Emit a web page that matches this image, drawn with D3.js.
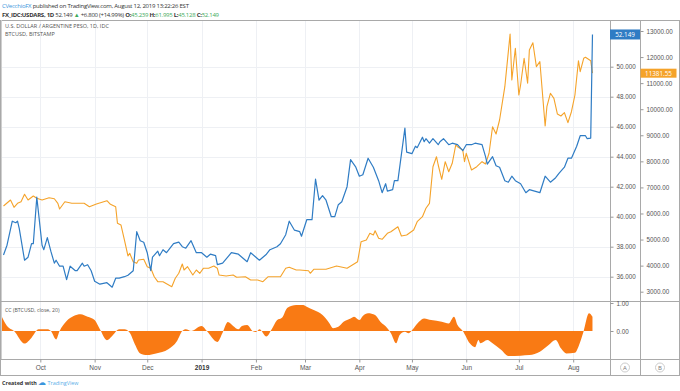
<!DOCTYPE html>
<html>
<head>
<meta charset="utf-8">
<script src="https://d3js.org/d3.v7.min.js"></script>
<style>
  body { margin: 0; background: #fff; }
  svg { display: block; font-family: "Open Sans", sans-serif; }
  .axis text { fill: #555; }
  .axis path { display: none; }
  .axis line { stroke: #999; }
</style>
</head>
<body>
<svg width="680" height="391"></svg>
<script>
// USD/ARS daily close
const usdars = [
  ["2018-09-10",37.45],["2018-09-12",38.1],["2018-09-15",39.7],["2018-09-17",39.6],["2018-09-18",39.7],["2018-09-19",39.2],
  ["2018-09-22",37.1],["2018-09-24",37.3],["2018-09-26",38.2],["2018-09-27",38.2],["2018-09-29",41.3],["2018-10-02",38.1],
  ["2018-10-03",37.8],["2018-10-05",38.6],["2018-10-07",37.7],["2018-10-09",36.9],["2018-10-10",37.1],["2018-10-12",36.7],
  ["2018-10-14",36.7],["2018-10-16",35.8],["2018-10-18",36.7],["2018-10-21",36.4],["2018-10-22",36.4],["2018-10-25",36.9],
  ["2018-10-26",36.7],["2018-10-28",36.8],["2018-10-30",36.4],["2018-11-01",35.7],["2018-11-04",35.5],["2018-11-08",35.6],
  ["2018-11-11",35.3],["2018-11-13",35.9],["2018-11-15",35.9],["2018-11-18",36.0],["2018-11-20",36.1],["2018-11-23",36.4],
  ["2018-11-25",39.0],["2018-11-27",38.4],["2018-11-29",38.3],["2018-12-01",37.6],["2018-12-03",36.4],["2018-12-04",37.3],
  ["2018-12-07",37.7],["2018-12-08",37.4],["2018-12-10",37.8],["2018-12-12",37.6],["2018-12-16",38.2],["2018-12-19",38.3],
  ["2018-12-21",38.0],["2018-12-23",37.9],["2018-12-26",38.4],["2018-12-29",37.6],["2019-01-01",37.6],["2019-01-04",37.3],
  ["2019-01-06",37.5],["2019-01-09",37.4],["2019-01-10",36.8],["2019-01-13",36.9],["2019-01-18",37.6],["2019-01-22",37.5],
  ["2019-01-24",37.3],["2019-01-27",37.0],["2019-01-29",37.6],["2019-02-01",37.3],["2019-02-03",37.1],["2019-02-07",37.5],
  ["2019-02-09",37.8],["2019-02-13",38.0],["2019-02-15",38.2],["2019-02-18",38.8],["2019-02-20",39.7],["2019-02-23",39.1],
  ["2019-02-26",39.0],["2019-02-27",38.7],["2019-03-02",39.8],["2019-03-05",39.8],["2019-03-07",42.5],["2019-03-09",41.1],
  ["2019-03-11",41.4],["2019-03-13",41.1],["2019-03-16",40.0],["2019-03-18",40.0],["2019-03-20",40.8],["2019-03-22",41.0],
  ["2019-03-25",42.0],["2019-03-27",43.8],["2019-03-30",43.3],["2019-04-01",42.7],["2019-04-03",42.8],["2019-04-06",43.9],
  ["2019-04-09",43.3],["2019-04-12",42.4],["2019-04-14",41.6],["2019-04-16",42.2],["2019-04-17",41.7],["2019-04-20",41.8],
  ["2019-04-21",42.4],["2019-04-23",42.4],["2019-04-27",45.9],["2019-04-28",44.3],["2019-05-01",44.2],["2019-05-03",44.7],
  ["2019-05-04",44.6],["2019-05-07",45.3],["2019-05-08",45.0],["2019-05-09",45.2],["2019-05-11",44.9],["2019-05-13",45.2],
  ["2019-05-16",44.8],["2019-05-17",45.0],["2019-05-19",45.2],["2019-05-22",44.8],["2019-05-24",44.9],["2019-05-27",44.8],
  ["2019-05-30",44.4],["2019-06-01",44.8],["2019-06-04",44.8],["2019-06-06",44.9],["2019-06-10",44.8],["2019-06-12",44.0],
  ["2019-06-13",43.5],["2019-06-16",44.0],["2019-06-18",43.4],["2019-06-20",43.3],["2019-06-23",42.4],["2019-06-25",42.3],
  ["2019-06-27",42.7],["2019-06-29",42.4],["2019-07-02",42.2],["2019-07-05",41.6],["2019-07-07",41.8],["2019-07-10",41.7],
  ["2019-07-13",41.6],["2019-07-16",42.7],["2019-07-19",42.3],["2019-07-22",42.6],["2019-07-24",42.9],["2019-07-27",43.3],
  ["2019-07-29",43.9],["2019-07-31",43.9],["2019-08-03",44.7],["2019-08-05",45.4],["2019-08-08",45.4],["2019-08-09",45.2],
  ["2019-08-11",45.24],["2019-08-12",52.149]
];

// BTC/USD Bitstamp daily close
const btcusd = [
  ["2018-09-10",6287],["2018-09-14",6517],["2018-09-16",6237],["2018-09-18",6390],["2018-09-20",6452],["2018-09-22",6736],
  ["2018-09-24",6517],["2018-09-27",6671],["2018-09-29",6583],["2018-10-02",6517],["2018-10-06",6606],["2018-10-09",6567],
  ["2018-10-11",6390],["2018-10-12",6172],["2018-10-15",6452],["2018-10-19",6390],["2018-10-26",6390],["2018-10-29",6260],
  ["2018-11-02",6364],["2018-11-08",6490],["2018-11-10",6352],["2018-11-13",6260],["2018-11-14",5624],["2018-11-16",5559],
  ["2018-11-18",4983],["2018-11-20",4370],["2018-11-21",4473],["2018-11-23",4150],["2018-11-25",4089],["2018-11-26",4216],
  ["2018-11-29",4243],["2018-12-01",3959],["2018-12-03",3897],["2018-12-05",3575],["2018-12-07",3384],["2018-12-10",3384],
  ["2018-12-15",3192],["2018-12-17",3514],["2018-12-19",3706],["2018-12-21",4062],["2018-12-22",3832],["2018-12-24",3959],
  ["2018-12-27",3640],["2018-12-29",3832],["2018-12-31",3706],["2019-01-02",3897],["2019-01-05",3897],["2019-01-08",3986],
  ["2019-01-10",3897],["2019-01-11",3640],["2019-01-15",3602],["2019-01-19",3640],["2019-01-21",3552],["2019-01-26",3575],
  ["2019-01-29",3449],["2019-02-02",3449],["2019-02-05",3384],["2019-02-08",3575],["2019-02-15",3575],["2019-02-18",3897],
  ["2019-02-20",3936],["2019-02-24",3832],["2019-02-26",3832],["2019-03-03",3806],["2019-03-04",3706],["2019-03-06",3859],
  ["2019-03-13",3859],["2019-03-19",3986],["2019-03-25",3897],["2019-03-28",4024],["2019-03-31",4150],["2019-04-02",4918],
  ["2019-04-05",4983],["2019-04-07",5240],["2019-04-09",5175],["2019-04-10",5340],["2019-04-12",5048],["2019-04-14",5010],
  ["2019-04-17",5240],["2019-04-19",5302],["2019-04-23",5493],["2019-04-25",5137],["2019-04-28",5175],["2019-05-02",5367],
  ["2019-05-04",5685],["2019-05-07",5877],["2019-05-09",6199],["2019-05-11",6390],["2019-05-13",7795],["2019-05-15",8178],
  ["2019-05-16",7860],["2019-05-18",7311],["2019-05-20",7987],["2019-05-22",7603],["2019-05-24",7925],["2019-05-26",8627],
  ["2019-05-27",8562],["2019-05-30",8435],["2019-05-31",7987],["2019-06-01",8309],["2019-06-04",7668],["2019-06-07",7795],
  ["2019-06-10",7987],["2019-06-12",7898],["2019-06-14",8309],["2019-06-16",9329],["2019-06-18",9049],["2019-06-20",9586],
  ["2019-06-23",10864],["2019-06-26",12885],["2019-06-27",11120],["2019-06-29",12336],["2019-07-01",10545],["2019-07-02",10929],
  ["2019-07-04",11953],["2019-07-06",10994],["2019-07-07",12271],["2019-07-09",12551],["2019-07-11",11631],["2019-07-13",11823],
  ["2019-07-16",9356],["2019-07-17",10096],["2019-07-19",10610],["2019-07-21",10418],["2019-07-23",9816],["2019-07-25",9739],
  ["2019-07-27",9866],["2019-07-29",9483],["2019-07-31",9904],["2019-08-02",10545],["2019-08-04",11861],["2019-08-05",11439],
  ["2019-08-07",11953],["2019-08-08",11992],["2019-08-11",11861],["2019-08-12",11381.55]
];

// correlation coefficient (BTCUSD, close, 20)
const cc = [
  ["2018-09-09",0.52],["2018-09-12",0.18],["2018-09-16",0.0],["2018-09-22",-0.45],["2018-09-26",-0.24],["2018-09-30",0.06],
  ["2018-10-05",0.06],["2018-10-07",0.0],["2018-10-10",-0.30],["2018-10-12",0.0],["2018-10-16",0.36],["2018-10-20",0.54],
  ["2018-10-24",0.6],["2018-10-28",0.51],["2018-11-01",0.39],["2018-11-04",0.06],["2018-11-08",-0.33],["2018-11-11",-0.18],
  ["2018-11-15",0.06],["2018-11-18",0.06],["2018-11-21",-0.06],["2018-11-24",-0.48],["2018-11-27",-0.8],["2018-12-01",-0.86],
  ["2018-12-06",-0.8],["2018-12-13",-0.65],["2018-12-18",-0.36],["2018-12-21",0.0],["2018-12-23",0.06],["2018-12-26",0.0],
  ["2019-01-01",0.18],["2019-01-04",0.0],["2019-01-10",-0.39],["2019-01-13",-0.06],["2019-01-16",0.32],["2019-01-19",0.18],
  ["2019-01-22",0.06],["2019-01-24",0.18],["2019-01-27",0.21],["2019-01-30",0.0],["2019-02-01",-0.04],["2019-02-03",0.06],
  ["2019-02-07",-0.2],["2019-02-10",0.06],["2019-02-13",0.38],["2019-02-16",0.48],["2019-02-19",0.83],["2019-02-24",0.93],
  ["2019-02-28",0.93],["2019-03-02",0.87],["2019-03-06",0.75],["2019-03-11",0.57],["2019-03-15",0.27],["2019-03-17",0.1],
  ["2019-03-20",0.15],["2019-03-23",0.33],["2019-03-27",0.45],["2019-03-29",0.51],["2019-04-01",0.39],["2019-04-03",0.54],
  ["2019-04-06",0.63],["2019-04-10",0.57],["2019-04-13",0.33],["2019-04-17",0.1],["2019-04-19",-0.08],["2019-04-22",-0.44],
  ["2019-04-24",-0.14],["2019-04-27",-0.03],["2019-04-29",-0.08],["2019-05-02",0.1],["2019-05-05",0.33],["2019-05-08",0.45],
  ["2019-05-12",0.39],["2019-05-18",0.33],["2019-05-22",0.27],["2019-05-25",0.51],["2019-05-27",0.21],["2019-05-30",0.0],
  ["2019-06-03",-0.44],["2019-06-06",-0.58],["2019-06-08",-0.32],["2019-06-09",-0.44],["2019-06-13",-0.32],["2019-06-16",-0.44],
  ["2019-06-21",-0.68],["2019-06-25",-0.89],["2019-07-02",-0.88],["2019-07-07",-0.86],["2019-07-13",-0.74],["2019-07-18",-0.5],
  ["2019-07-22",-0.32],["2019-07-25",-0.62],["2019-07-28",-0.8],["2019-08-02",-0.78],["2019-08-04",-0.56],["2019-08-07",0.0],
  ["2019-08-10",0.63],["2019-08-12",0.51]
];

const arsTicks = [36, 38, 40, 42, 44, 46, 48, 50];
const btcTicks = [3000, 4000, 5000, 6000, 7000, 8000, 9000, 10000, 11000, 12000, 13000];
const ccTicks = [0, 1];
const monthTicks = ["2018-10-01","2018-11-01","2018-12-01","2019-01-01","2019-02-01","2019-03-01",
                    "2019-04-01","2019-05-01","2019-06-01","2019-07-01","2019-08-01"];
const lastArs = 52.149;
const lastBtc = 11381.55;

const parse = d3.timeParse("%Y-%m-%d");
const blue = "#2f7cc4", orange = "#f5a32a", ccOrange = "#f97a14";

var svg = d3.select("svg");
var paneW = 610, axA = 610, axB = 640, W = 680;
var mainTop = 20, mainBot = 301, ccBot = 359, axisBot = 375;

var x = d3.scaleTime()
  .domain([parse("2018-09-08"), parse("2019-08-22")])
  .range([0, paneW]);
var yA = d3.scaleLinear().domain([36, 50]).range([276.7, 66.7]);
var yB = d3.scaleLinear().domain([3000, 13000]).range([291.7, 31]);
var yC = d3.scaleLinear().domain([-1, 1]).range([359, 303]);

// grid
var grid = svg.append("g").attr("stroke", "#eef0f4").attr("stroke-width", 1);
grid.selectAll("line.v").data(monthTicks).enter().append("line")
  .attr("x1", d => Math.round(x(parse(d))) + 0.5).attr("x2", d => Math.round(x(parse(d))) + 0.5)
  .attr("y1", mainTop).attr("y2", ccBot);
grid.selectAll("line.h").data(arsTicks).enter().append("line")
  .attr("x1", 0).attr("x2", paneW)
  .attr("y1", d => Math.round(yA(d)) + 0.5).attr("y2", d => Math.round(yA(d)) + 0.5);

// CC area
var ccArea = d3.area()
  .x(d => x(parse(d[0])))
  .y0(yC(0))
  .y1(d => yC(d[1]))
  .curve(d3.curveMonotoneX);
svg.append("path").datum(cc).attr("d", ccArea).attr("fill", ccOrange);

// price lines
var lineB = d3.line().x(d => x(parse(d[0]))).y(d => yB(d[1]));
var lineA = d3.line().x(d => x(parse(d[0]))).y(d => yA(d[1]));
svg.append("path").datum(btcusd).attr("d", lineB)
  .attr("fill", "none").attr("stroke", orange).attr("stroke-width", 1.1).attr("stroke-linejoin", "round");
svg.append("path").datum(usdars).attr("d", lineA)
  .attr("fill", "none").attr("stroke", blue).attr("stroke-width", 1.2).attr("stroke-linejoin", "round");

// frame lines
var frame = svg.append("g").attr("stroke", "#a9a9a9").attr("stroke-width", 1).attr("fill", "none");
frame.append("rect").attr("x", 0.5).attr("y", mainTop + 0.5).attr("width", W - 1).attr("height", axisBot - mainTop);
frame.append("line").attr("x1", 1.5).attr("x2", 1.5).attr("y1", mainTop).attr("y2", ccBot).attr("stroke", "#cfcfcf");
[axA, axB].forEach(function(v) {
  frame.append("line").attr("x1", v + 0.5).attr("x2", v + 0.5).attr("y1", mainTop).attr("y2", axisBot);
});
[mainBot, ccBot].forEach(function(v) {
  frame.append("line").attr("x1", 0).attr("x2", W).attr("y1", v + 0.5).attr("y2", v + 0.5);
});

// axes
svg.append("g").attr("class", "axis").attr("transform", "translate(" + (axA + 0.5) + ",0)")
  .call(d3.axisRight(yA).tickValues(arsTicks).tickFormat(d3.format(".3f")).tickSize(3).tickPadding(3))
  .selectAll("text").style("font-size", "6.3px");
svg.append("g").attr("class", "axis").attr("transform", "translate(" + (axB + 0.5) + ",0)")
  .call(d3.axisRight(yB).tickValues(btcTicks).tickFormat(d3.format(".2f")).tickSize(3).tickPadding(3))
  .selectAll("text").style("font-size", "6.3px");
svg.append("g").attr("class", "axis").attr("transform", "translate(" + (axA + 0.5) + ",0)")
  .call(d3.axisRight(yC).tickValues(ccTicks).tickFormat(d3.format(".2f")).tickSize(3).tickPadding(3))
  .selectAll("text").style("font-size", "6.3px");

var xAxis = svg.append("g").attr("class", "axis").attr("transform", "translate(0," + (ccBot + 0.5) + ")")
  .call(d3.axisBottom(x).tickValues(monthTicks.map(parse))
    .tickFormat(d => d.getMonth() === 0 ? d3.timeFormat("%Y")(d) : d3.timeFormat("%b")(d))
    .tickSize(3).tickPadding(3));
xAxis.selectAll("text").style("font-size", "6.5px")
  .style("font-weight", d => d.getMonth() === 0 ? "bold" : "normal")
  .style("fill", d => d.getMonth() === 0 ? "#333" : "#555");

// last value labels
var tagA = svg.append("g").attr("transform", "translate(" + axA + "," + yA(lastArs) + ")");
tagA.append("rect").attr("x", 0).attr("y", -5).attr("width", 30).attr("height", 10).attr("fill", blue);
tagA.append("text").text(d3.format(".3f")(lastArs)).attr("x", 15).attr("y", 2.3)
  .attr("text-anchor", "middle").attr("fill", "#fff").style("font-size", "6.3px");
var tagB = svg.append("g").attr("transform", "translate(" + axB + "," + yB(lastBtc) + ")");
tagB.append("rect").attr("x", 0.5).attr("y", -4.5).attr("width", 36).attr("height", 9).attr("fill", orange);
tagB.append("text").text(d3.format(".2f")(lastBtc)).attr("x", 18.5).attr("y", 2.3)
  .attr("text-anchor", "middle").attr("fill", "#fff").style("font-size", "6.3px");

// pane labels
svg.append("text").text("U.S. DOLLAR / ARGENTINE PESO, 1D, IDC").attr("x", 5).attr("y", 28)
  .attr("fill", "#555").style("font-size", "5.5px");
svg.append("text").text("BTCUSD, BITSTAMP").attr("x", 5).attr("y", 36)
  .attr("fill", "#555").style("font-size", "5.5px");
svg.append("text").text("CC (BTCUSD, close, 20)").attr("x", 5).attr("y", 311.5)
  .attr("fill", "#555").style("font-size", "5.2px");

// header
var h1 = svg.append("text").attr("x", 2).attr("y", 8).style("font-size", "6px")
  .style("letter-spacing", "-0.25px").attr("fill", "#333");
h1.append("tspan").text("CVecchioFX").attr("fill", "#3b95dc");
h1.append("tspan").text(" published on TradingView.com, August 12, 2019 13:22:26 EST");

var green = "#3daa5c";
var h2 = svg.append("text").attr("x", 2).attr("y", 16.5).style("font-size", "6px")
  .style("letter-spacing", "-0.27px").attr("fill", "#333");
h2.append("tspan").text("FX_IDC:USDARS, 1D ").style("font-weight", "bold");
h2.append("tspan").text("52.149 ");
h2.append("tspan").text("▲").attr("fill", green);
h2.append("tspan").text(" +6.800 (+14.99%) ");
h2.append("tspan").text("O:").style("font-weight", "bold");
h2.append("tspan").text("45.239 ").attr("fill", green);
h2.append("tspan").text("H:").style("font-weight", "bold");
h2.append("tspan").text("61.995 ").attr("fill", green);
h2.append("tspan").text("L:").style("font-weight", "bold");
h2.append("tspan").text("45.128 ").attr("fill", green);
h2.append("tspan").text("C:").style("font-weight", "bold");
h2.append("tspan").text("52.149").attr("fill", green);

// A / B buttons
[["A", 625], ["B", 660]].forEach(function(b) {
  svg.append("circle").attr("cx", b[1]).attr("cy", 367.5).attr("r", 4.5)
    .attr("fill", "none").attr("stroke", "#ccc");
  svg.append("text").text(b[0]).attr("x", b[1]).attr("y", 369.8).attr("text-anchor", "middle")
    .attr("fill", "#777").style("font-size", "6px");
});

// footer
var ft = svg.append("text").attr("x", 2).attr("y", 384.5).style("font-size", "5.4px");
ft.append("tspan").text("Created with ").style("font-weight", "bold").attr("fill", "#333");
ft.append("tspan").text("\u2601").attr("fill", "#3b95dc").style("font-size", "8px");
ft.append("tspan").text(" TradingView").attr("fill", "#5aaee8");
</script>
</body>
</html>
